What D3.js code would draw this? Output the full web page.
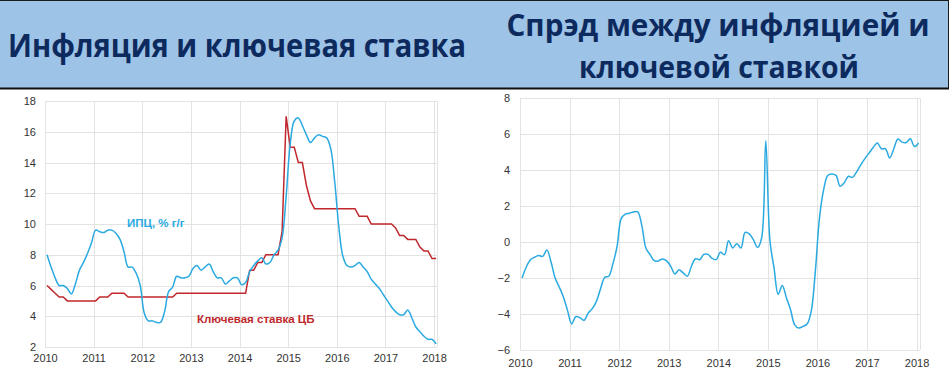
<!DOCTYPE html>
<html>
<head>
<meta charset="utf-8">
<script src="https://cdn.jsdelivr.net/npm/d3@7"></script>
<style>
  body { margin: 0; background: #fff; }
  svg { display: block; }
</style>
</head>
<body>
<svg id="chart"></svg>
<script>
// Data: monthly points, Jan 2010 .. Jan 2018
const yearTicks = [2010, 2011, 2012, 2013, 2014, 2015, 2016, 2017, 2018];
const leftTicks = [2, 4, 6, 8, 10, 12, 14, 16, 18];
const rightTicks = [-6, -4, -2, 0, 2, 4, 6, 8];

const cpi = [
  8.0, 7.2, 6.5, 6.0, 6.0, 5.8, 5.45, 6.1, 7.0, 7.5, 8.1, 8.8,
  9.6, 9.5, 9.45, 9.6, 9.6, 9.4, 9.0, 8.2, 7.2, 7.2, 6.8, 6.0,
  4.2, 3.7, 3.7, 3.6, 3.6, 4.3, 5.6, 5.9, 6.6, 6.5, 6.5, 6.6,
  7.1, 7.3, 7.0, 7.2, 7.4, 6.9, 6.5, 6.5, 6.1, 6.3, 6.5, 6.5,
  6.05, 6.2, 6.9, 7.3, 7.6, 7.8, 7.4, 7.5, 8.0, 8.3, 9.1, 11.8,
  15.2, 16.7, 16.9, 16.4, 15.8, 15.3, 15.6, 15.8, 15.7, 15.6, 14.9, 12.7,
  9.8, 7.9, 7.3, 7.2, 7.3, 7.5, 7.2, 6.9, 6.4, 6.1, 5.8, 5.4,
  5.0, 4.6, 4.3, 4.1, 4.1, 4.4, 3.9, 3.3, 3.0, 2.7, 2.5, 2.5,
  2.2
];

const keyRate = [
  6.0, 5.75, 5.5, 5.25, 5.25, 5.0, 5.0, 5.0, 5.0, 5.0, 5.0, 5.0,
  5.0, 5.25, 5.25, 5.25, 5.5, 5.5, 5.5, 5.5, 5.25, 5.25, 5.25, 5.25,
  5.25, 5.25, 5.25, 5.25, 5.25, 5.25, 5.25, 5.25, 5.5, 5.5, 5.5, 5.5,
  5.5, 5.5, 5.5, 5.5, 5.5, 5.5, 5.5, 5.5, 5.5, 5.5, 5.5, 5.5,
  5.5, 5.5, 7.0, 7.0, 7.5, 7.5, 8.0, 8.0, 8.0, 8.0, 9.5, 17.0,
  15.0, 15.0, 14.0, 14.0, 12.5, 11.5, 11.0, 11.0, 11.0, 11.0, 11.0, 11.0,
  11.0, 11.0, 11.0, 11.0, 11.0, 10.5, 10.5, 10.5, 10.0, 10.0, 10.0, 10.0,
  10.0, 10.0, 9.75, 9.25, 9.25, 9.0, 9.0, 9.0, 8.5, 8.25, 8.25, 7.75,
  7.75
];

const spread = [
  -2.0, -1.4, -1.0, -0.85, -0.75, -0.8, -0.45, -1.1, -2.0, -2.5, -3.05, -3.8,
  -4.55, -4.15, -4.2, -4.35, -3.95, -3.7, -3.3, -2.6, -1.97, -1.9, -1.2, -0.25,
  1.3, 1.55, 1.6, 1.67, 1.67, 0.9, -0.35, -0.7, -1.04, -1.05, -0.94, -1.05,
  -1.35, -1.78, -1.54, -1.72, -1.9, -1.35, -0.93, -0.98, -0.69, -0.69, -0.91, -0.98,
  -0.57, -0.7, 0.07, -0.33, -0.1, -0.33, 0.53, 0.45, 0.13, -0.3, 0.22, 5.63,
  0.1, -1.44, -2.9, -2.41, -3.1, -3.76, -4.6, -4.78, -4.69, -4.56, -3.85, -1.63,
  1.33, 2.9, 3.7, 3.78, 3.7, 3.1, 3.29, 3.65, 3.59, 3.9, 4.29, 4.63,
  4.94, 5.25, 5.5, 5.18, 5.18, 4.67, 5.18, 5.72, 5.55, 5.53, 5.74, 5.3,
  5.5
];

// months as fractional years (mid-month)
const months = cpi.map((d, i) => 2010 + (i + 0.5) / 12);

const W = 949, H = 372;
const blue = '#2AAAE1';
const red = '#C0282D';
const gridColor = '#E3E3E3';

const svg = d3.select('#chart')
  .attr('width', W)
  .attr('height', H)
  .style('font-family', '"Liberation Sans", Arial, sans-serif');

// Header band
svg.append('rect')
  .attr('x', 0).attr('y', 0)
  .attr('width', W).attr('height', 89)
  .attr('fill', '#9DC3E6');
svg.append('line').attr('x1', 0).attr('x2', W).attr('y1', 0.5).attr('y2', 0.5)
  .attr('stroke', '#1a1a1a').attr('stroke-width', 1);
svg.append('line').attr('x1', 0).attr('x2', W).attr('y1', 88.5).attr('y2', 88.5)
  .attr('stroke', '#111').attr('stroke-width', 2);
svg.append('line').attr('x1', W - 0.5).attr('x2', W - 0.5).attr('y1', 0).attr('y2', 89)
  .attr('stroke', '#1a1a1a').attr('stroke-width', 1);

const titleStyle = sel => sel
  .attr('text-anchor', 'middle')
  .attr('fill', '#0D2A5E')
  .attr('font-family', '"Open Sans", "Noto Sans", sans-serif')
  .attr('font-weight', 'bold')
  .attr('lengthAdjust', 'spacingAndGlyphs');

svg.append('text').call(titleStyle)
  .attr('x', 237).attr('y', 57)
  .attr('font-size', 33)
  .attr('textLength', 458)
  .text('Инфляция и ключевая ставка');
svg.append('text').call(titleStyle)
  .attr('x', 718).attr('y', 36)
  .attr('font-size', 30)
  .attr('textLength', 423)
  .text('Спрэд между инфляцией и');
svg.append('text').call(titleStyle)
  .attr('x', 719).attr('y', 78)
  .attr('font-size', 31)
  .attr('textLength', 280)
  .text('ключевой ставкой');

// Generic panel: gridlines + tick labels
function drawPanel(x, y, yTicks, opts) {
  const g = svg.append('g');

  // horizontal gridlines
  g.selectAll('.hgrid')
    .data(yTicks)
    .enter()
    .append('line')
    .attr('x1', x.range()[0]).attr('x2', x.range()[1])
    .attr('y1', d => Math.round(y(d)) + 0.5)
    .attr('y2', d => Math.round(y(d)) + 0.5)
    .attr('stroke', gridColor);

  // vertical gridlines (years + right edge)
  g.selectAll('.vgrid')
    .data(yearTicks.concat([x.domain()[1]]))
    .enter()
    .append('line')
    .attr('x1', d => Math.round(x(d)) + 0.5)
    .attr('x2', d => Math.round(x(d)) + 0.5)
    .attr('y1', y.range()[1]).attr('y2', y.range()[0])
    .attr('stroke', gridColor);

  // y axis labels
  const yAxis = d3.axisLeft(y).tickValues(yTicks).tickSize(0).tickPadding(opts.yPad);
  g.append('g')
    .attr('transform', `translate(${x.range()[0]},0)`)
    .call(yAxis)
    .call(a => a.select('.domain').remove())
    .selectAll('text')
    .attr('font-size', 11)
    .attr('fill', '#333')
    .attr('font-family', '"Liberation Sans", Arial, sans-serif');

  // x axis labels
  const xAxis = d3.axisBottom(x).tickValues(yearTicks).tickFormat(d3.format('d'))
    .tickSize(0).tickPadding(opts.xPad);
  g.append('g')
    .attr('transform', `translate(0,${y.range()[0]})`)
    .call(xAxis)
    .call(a => a.select('.domain').remove())
    .selectAll('text')
    .attr('font-size', 11)
    .attr('fill', '#333')
    .attr('font-family', '"Liberation Sans", Arial, sans-serif');

  return g;
}

// Left chart: inflation and key rate
const xL = d3.scaleLinear().domain([2010, 2018.06]).range([45, 437]);
const yL = d3.scaleLinear().domain([2, 18]).range([347, 101]);
const left = drawPanel(xL, yL, leftTicks, { yPad: 9, xPad: 7 });

const cpiLine = d3.line()
  .x((d, i) => xL(months[i]))
  .y(d => yL(d))
  .curve(d3.curveCatmullRom.alpha(0.5));

const rateLine = d3.line()
  .x((d, i) => xL(months[i]))
  .y(d => yL(d));

left.append('path')
  .datum(keyRate)
  .attr('d', rateLine)
  .attr('fill', 'none')
  .attr('stroke', red)
  .attr('stroke-width', 1.5);

left.append('path')
  .datum(cpi)
  .attr('d', cpiLine)
  .attr('fill', 'none')
  .attr('stroke', blue)
  .attr('stroke-width', 1.5);

// series labels
left.append('text')
  .attr('x', 127).attr('y', 227)
  .attr('font-size', 11.5)
  .attr('font-weight', 'bold')
  .attr('fill', blue)
  .text('ИПЦ, % г/г');
left.append('text')
  .attr('x', 197).attr('y', 323)
  .attr('font-size', 11.5)
  .attr('font-weight', 'bold')
  .attr('fill', red)
  .text('Ключевая ставка ЦБ');

// Right chart: spread
const xR = d3.scaleLinear().domain([2010, 2018.07]).range([520, 920]);
const yR = d3.scaleLinear().domain([-6, 8]).range([350, 98]);
const right = drawPanel(xR, yR, rightTicks, { yPad: 10, xPad: 9 });

const spreadLine = d3.line()
  .x((d, i) => xR(months[i]))
  .y(d => yR(d))
  .curve(d3.curveCatmullRom.alpha(0.5));

right.append('path')
  .datum(spread)
  .attr('d', spreadLine)
  .attr('fill', 'none')
  .attr('stroke', blue)
  .attr('stroke-width', 1.5);
</script>
</body>
</html>
